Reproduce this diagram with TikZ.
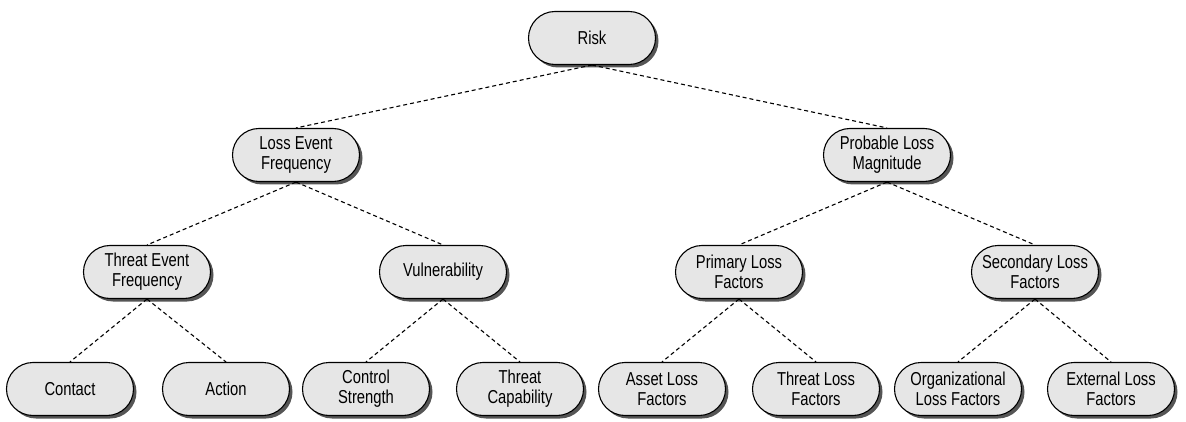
\documentclass[tikz,border=0pt]{standalone}
\usepackage{fontspec}
\newfontfamily\condfont[FakeStretch=0.79]{Liberation Sans}
\usetikzlibrary{shadows}
\definecolor{boxgray}{RGB}{230,230,230}
\definecolor{shadowgray}{RGB}{85,85,85}
\tikzset{
  box/.style={draw=black, line width=1.1pt, fill=boxgray, rectangle,
    rounded corners=26.5pt, minimum width=127pt, minimum height=53pt,
    inner sep=0pt, align=center,
    font=\condfont\fontsize{18.7}{19.7}\selectfont,
    drop shadow={shadow xshift=3pt, shadow yshift=-3pt, fill=shadowgray, opacity=1}},
  link/.style={draw=black, line width=1.1pt, dash pattern=on 4pt off 3pt}
}
\begin{document}
\begin{tikzpicture}[x=1pt,y=-1pt]
\useasboundingbox (0,0) rectangle (1186,422);
\node[box] (risk) at (592,38) {Risk};
\node[box] (lef) at (296,155) {Loss Event\\Frequency};
\node[box] (plm) at (887,155) {Probable Loss\\Magnitude};
\node[box] (tef) at (147,272) {Threat Event\\Frequency};
\node[box] (vul) at (443,272) {Vulnerability};
\node[box] (plf) at (739,272) {Primary Loss\\Factors};
\node[box] (slf) at (1035,272) {Secondary Loss\\Factors};
\node[box] (con) at (70,389) {Contact};
\node[box] (act) at (226,389) {Action};
\node[box] (cs) at (366,389) {Control\\Strength};
\node[box] (tc) at (520,389) {Threat\\Capability};
\node[box] (alf) at (662,389) {Asset Loss\\Factors};
\node[box] (tlf) at (816,389) {Threat Loss\\Factors};
\node[box] (olf) at (958,389) {Organizational\\Loss Factors};
\node[box] (elf) at (1111,389) {External Loss\\Factors};
\draw[link] (risk.south) -- (lef.north);
\draw[link] (risk.south) -- (plm.north);
\draw[link] (lef.south) -- (tef.north);
\draw[link] (lef.south) -- (vul.north);
\draw[link] (plm.south) -- (plf.north);
\draw[link] (plm.south) -- (slf.north);
\draw[link] (tef.south) -- (con.north);
\draw[link] (tef.south) -- (act.north);
\draw[link] (vul.south) -- (cs.north);
\draw[link] (vul.south) -- (tc.north);
\draw[link] (plf.south) -- (alf.north);
\draw[link] (plf.south) -- (tlf.north);
\draw[link] (slf.south) -- (olf.north);
\draw[link] (slf.south) -- (elf.north);
\end{tikzpicture}
\end{document}
